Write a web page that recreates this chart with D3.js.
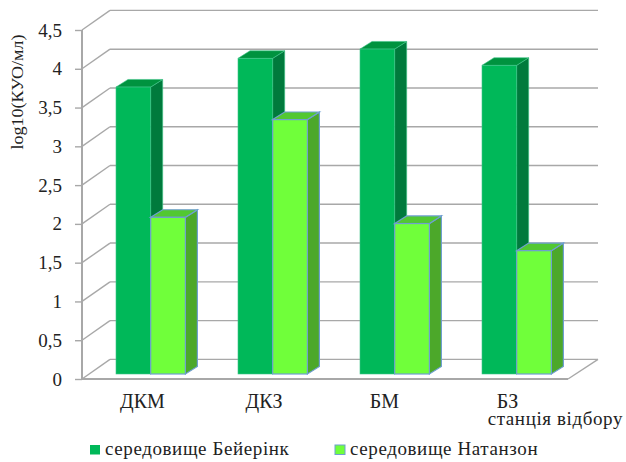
<!DOCTYPE html>
<html>
<head>
<meta charset="utf-8">
<script src="https://cdnjs.cloudflare.com/ajax/libs/d3/7.8.5/d3.min.js"></script>
<style>
html,body{margin:0;padding:0;background:#fff}
svg{display:block}
text{font-family:"Liberation Serif",serif;fill:#222}
</style>
</head>
<body>
<svg id="chart" width="626" height="462"></svg>
<script>
const categories = ["ДКМ", "ДКЗ", "БМ", "БЗ"];
const seriesNames = ["середовище Бейерінк", "середовище Натанзон"];
const beijerinck = [3.70, 4.07, 4.19, 3.98];
const natanson = [2.02, 3.28, 1.94, 1.59];
const yTicks = [0, 0.5, 1, 1.5, 2, 2.5, 3, 3.5, 4, 4.5];
const yTitle = "log10(КУО/мл)";
const xTitle = "станція відбору";

const frontColors = ["#00b859", "#70ff3a"];
const sideColors = ["#007a3c", "#4ca82a"];
const topColors = ["#00933f", "#52c832"];
const edgeColors = ["#3fc489", "#6f9fd0"];
const gridColor = "#a8a8a8";

const svg = d3.select("#chart");

// Plot box: front-left corner of the floor and the shift to the back wall.
const x0 = 82, x1 = 570, wallDx = 28, wallDy = -19.6;
const y = d3.scaleLinear().domain([0, 4.5]).range([379, 30]);
const band = d3.scaleBand().domain(categories).range([x0, x1]);
const inner = d3.scaleBand().domain([0, 1]).range([34, 103.4]);

// Bars stand a little behind the front edge and have their own small depth.
const barLift = 5, depthX = 12, depthY = -7.6;

// Back wall gridlines and their diagonals along the left side wall
const grid = svg.append("g").attr("fill", "none").attr("stroke", gridColor).attr("stroke-width", 1.4);
grid.selectAll("line.back").data(yTicks).join("line").attr("class", "back")
  .attr("x1", x0 + wallDx).attr("x2", x1 + wallDx)
  .attr("y1", d => y(d) + wallDy).attr("y2", d => y(d) + wallDy);
grid.selectAll("line.diag").data(yTicks).join("line").attr("class", "diag")
  .attr("x1", x0).attr("x2", x0 + wallDx)
  .attr("y1", d => y(d)).attr("y2", d => y(d) + wallDy);

// Floor
grid.append("line").attr("x1", x1 - 2).attr("x2", x1 + wallDx)
  .attr("y1", y(0)).attr("y2", y(0) + wallDy);
grid.append("line").attr("x1", x0).attr("x2", x1 - 2)
  .attr("y1", y(0)).attr("y2", y(0)).attr("stroke-width", 2);

// Value axis
const axis = d3.axisLeft(y).tickValues(yTicks).tickSize(7).tickPadding(13)
  .tickFormat(d => String(d).replace(".", ","));
const axisG = svg.append("g").attr("transform", `translate(${x0},0)`).call(axis);
axisG.select(".domain").attr("stroke", gridColor).attr("stroke-width", 2).attr("d", `M0,${y(4.5)}V${y(0)}`);
axisG.selectAll(".tick line").attr("stroke", gridColor).attr("stroke-width", 1.4);
axisG.selectAll(".tick text").attr("font-size", 19).attr("fill", "#222").attr("font-family", '"Liberation Serif",serif');

// Bars
const pts = a => a.map(p => p.join(",")).join(" ");
categories.forEach((c, i) => {
  [beijerinck[i], natanson[i]].forEach((v, s) => {
    const left = band(c) + inner(s);
    const w = inner.bandwidth();
    const base = y(0) - barLift;
    const top = y(v) - barLift;
    const g = svg.append("g").attr("stroke", edgeColors[s]).attr("stroke-width", s ? 1.2 : 0.6);
    g.append("polygon").attr("fill", sideColors[s]).attr("points", pts([
      [left + w, top], [left + w + depthX, top + depthY],
      [left + w + depthX, base + depthY], [left + w, base]]));
    g.append("polygon").attr("fill", topColors[s]).attr("points", pts([
      [left, top], [left + depthX, top + depthY],
      [left + w + depthX, top + depthY], [left + w, top]]));
    g.append("rect").attr("fill", frontColors[s])
      .attr("x", left).attr("y", top).attr("width", w).attr("height", base - top);
  });
});

// Category labels
svg.selectAll("text.cat").data(categories).join("text").attr("class", "cat")
  .attr("x", (d, i) => band(d) + band.bandwidth() / 2 - [0.5, 1, 2.5, 1.5][i])
  .attr("y", 408).attr("text-anchor", "middle").attr("font-size", 20)
  .text(d => d);

// Axis titles
svg.append("text").attr("x", 623).attr("y", 425).attr("text-anchor", "end")
  .attr("font-size", 19).attr("letter-spacing", 0.6).text(xTitle);
svg.append("text").attr("transform", "translate(23,92) rotate(-90)")
  .attr("text-anchor", "middle").attr("font-size", 17).attr("textLength", 115)
  .attr("lengthAdjust", "spacingAndGlyphs").text(yTitle);

// Legend
const legendX = [90, 335];
seriesNames.forEach((name, i) => {
  svg.append("rect").attr("x", legendX[i]).attr("y", 445).attr("width", 10).attr("height", 9.5)
    .attr("fill", frontColors[i]).attr("stroke", i ? edgeColors[1] : "none");
  svg.append("text").attr("x", legendX[i] + 15).attr("y", 455)
    .attr("font-size", 19).attr("letter-spacing", 0.6).text(name);
});
</script>
</body>
</html>
